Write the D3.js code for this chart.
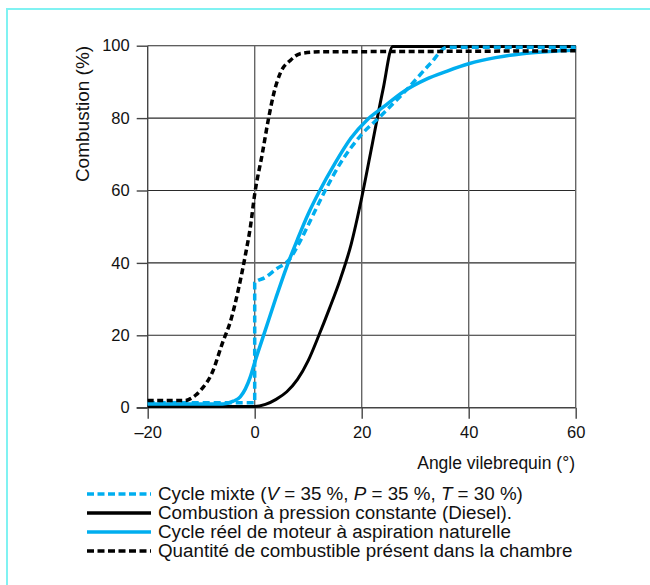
<!DOCTYPE html>
<html>
<head>
<meta charset="utf-8">
<script src="https://cdn.jsdelivr.net/npm/d3@7"></script>
<style>
  body { margin: 0; background: #fff; }
  text { font-family: "Liberation Sans", Arial, sans-serif; fill: #111; }
</style>
</head>
<body>
<div id="chart"></div>
<script>
// values (angle in degrees, combustion in %)
var mixteAngle = [-20, -10, 0, 0, 2, 4, 6.5, 8.5, 10.5, 13, 16, 20, 23.5, 28.5, 32.8, 36, 48, 60]
var mixteValue = [1.4, 1.4, 1.4, 34.5, 36, 38.3, 41, 46, 52, 59.5, 67.5, 75.5, 80.5, 88, 95, 99.6, 99.6, 99.6]

var dieselAngle = [-20, -10, 0, 2, 4, 6, 8, 10, 12, 14, 16, 18, 20, 22, 24, 25.8, 40, 60]
var dieselValue = [0.3, 0.3, 0.3, 0.9, 2.3, 4.4, 7.8, 13, 20, 27.5, 35.5, 45, 58, 73, 88, 99.8, 99.8, 99.8]

var reelAngle = [-20, -10, -6, -4, -2.7, -0.8, 0, 2, 4, 6, 8, 10, 12, 15, 18, 21, 24, 28, 32, 36, 40, 45, 50, 55, 60]
var reelValue = [1, 1, 1, 1.8, 3, 8.6, 12.5, 21.5, 30.5, 39, 46.5, 53.5, 59.5, 67.5, 74.5, 79.5, 83, 87.5, 90.7, 93, 95, 96.7, 97.8, 98.4, 98.8]

var fuelAngle = [-20, -13, -12, -11, -10, -8, -6, -4.5, -3, -1.7, -0.8, 0, 1.4, 2.6, 3.6, 4.8, 6.7, 8.5, 12, 30, 60]
var fuelValue = [2, 2, 2.5, 3.5, 5, 9.5, 18, 24, 33, 42.5, 50, 59, 70, 80, 87, 92.5, 96, 97.8, 98.3, 98.4, 98.6]

var xTicks = [-20, 0, 20, 40, 60]
var yTicks = [0, 20, 40, 60, 80, 100]

// legend text as [text, italic] pieces
var legendLabels = [
  [['Cycle mixte (', 0], ['V', 1], [' = 35 %, ', 0], ['P', 1], [' = 35 %, ', 0], ['T', 1], [' = 30 %)', 0]],
  [['Combustion à pression constante (Diesel).', 0]],
  [['Cycle réel de moteur à aspiration naturelle', 0]],
  [['Quantité de combustible présent dans la chambre', 0]]
]

var BLUE = '#00aeef'
var width = 650
var height = 585

var svg = d3.select('#chart')
  .append('svg')
  .attr('width', width)
  .attr('height', height)

// light cyan frame (top + left only)
svg.append('path')
  .attr('d', 'M7,585 V9 H650')
  .attr('fill', 'none')
  .attr('stroke', '#80f2f2')
  .attr('stroke-width', 2)

var x = d3.scaleLinear().domain([-20, 60]).range([147.7, 575.7])
var y = d3.scaleLinear().domain([0, 100]).range([407.7, 45.7])

// grid
var grid = svg.append('g')
grid.selectAll('.hgrid')
  .data(yTicks.filter(function(d) { return d > 0 }))
  .enter()
  .append('line')
  .attr('x1', x(-20)).attr('x2', x(60))
  .attr('y1', function(d) { return y(d) })
  .attr('y2', function(d) { return y(d) })
  .attr('stroke', '#2a2a2a')
  .attr('stroke-width', 1.1)

grid.selectAll('.vgrid')
  .data(xTicks.filter(function(d) { return d > -20 }))
  .enter()
  .append('line')
  .attr('y1', y(0)).attr('y2', y(100))
  .attr('x1', function(d) { return x(d) })
  .attr('x2', function(d) { return x(d) })
  .attr('stroke', '#666')
  .attr('stroke-width', 1.4)

// axes
var yAxis = d3.axisLeft(y).tickValues(yTicks).tickSize(11).tickPadding(7)
var xAxis = d3.axisBottom(x).tickValues(xTicks).tickSize(11).tickPadding(8)
  .tickFormat(function(d) { return d < 0 ? '\u2013' + Math.abs(d) : d })

var gy = svg.append('g')
  .attr('transform', 'translate(' + x(-20) + ',0)')
  .call(yAxis)
var gx = svg.append('g')
  .attr('transform', 'translate(0,' + y(0) + ')')
  .call(xAxis)

;[gx, gy].forEach(function(g) {
  g.select('.domain').remove()
  g.selectAll('line').attr('stroke', '#444').attr('stroke-width', 1.4)
  g.selectAll('text')
    .style('font-family', '"Liberation Sans", Arial, sans-serif')
    .style('font-size', '16.5px')
    .attr('fill', '#111')
})

svg.append('line')
  .attr('x1', x(-20)).attr('x2', x(-20))
  .attr('y1', y(0)).attr('y2', y(100))
  .attr('stroke', '#444').attr('stroke-width', 1.4)
svg.append('line')
  .attr('x1', x(-20) - 11).attr('x2', x(60))
  .attr('y1', y(0)).attr('y2', y(0))
  .attr('stroke', '#444').attr('stroke-width', 1.4)

// axis titles
svg.append('text')
  .attr('transform', 'translate(89,114) rotate(-90)')
  .attr('text-anchor', 'middle')
  .style('font-size', '19px')
  .text('Combustion (%)')

svg.append('text')
  .attr('x', 575)
  .attr('y', 469)
  .attr('text-anchor', 'end')
  .style('font-size', '17.5px')
  .text('Angle vilebrequin (°)')

// curves
var line = d3.line()
  .x(function(d) { return x(d[0]) })
  .y(function(d) { return y(d[1]) })
  .curve(d3.curveMonotoneX)

function pairs(a, v) {
  return a.map(function(d, i) { return [d, v[i]] })
}

var series = [
  { data: pairs(dieselAngle, dieselValue), color: '#000', dash: null, w: 3 },
  { data: pairs(reelAngle, reelValue), color: BLUE, dash: null, w: 3.5 },
  { data: pairs(mixteAngle, mixteValue), color: BLUE, dash: '7,4', w: 3.5 },
  { data: pairs(fuelAngle, fuelValue), color: '#000', dash: '6,3.5', w: 3.5 }
]

svg.selectAll('.curve')
  .data(series)
  .enter()
  .append('path')
  .attr('class', 'curve')
  .attr('d', function(d) { return line(d.data) })
  .attr('fill', 'none')
  .attr('stroke', function(d) { return d.color })
  .attr('stroke-width', function(d) { return d.w })
  .attr('stroke-dasharray', function(d) { return d.dash })

// legend (order as in the figure)
var legendOrder = [2, 0, 1, 3]
var leg = svg.selectAll('.leg')
  .data(legendOrder)
  .enter()
  .append('g')
  .attr('transform', function(d, i) { return 'translate(0,' + (499.5 + i * 19) + ')' })

leg.append('line')
  .attr('x1', 87).attr('x2', 151)
  .attr('y1', -5.5).attr('y2', -5.5)
  .attr('stroke', function(d) { return series[d].color })
  .attr('stroke-width', 3.5)
  .attr('stroke-dasharray', function(d) { return series[d].dash ? '7,3.5' : null })

leg.append('text')
  .attr('x', 158)
  .attr('y', 0)
  .style('font-size', '18.8px')
  .selectAll('tspan')
  .data(function(d, i) { return legendLabels[i] })
  .enter()
  .append('tspan')
  .style('font-style', function(p) { return p[1] ? 'italic' : null })
  .text(function(p) { return p[0] })
</script>
</body>
</html>
